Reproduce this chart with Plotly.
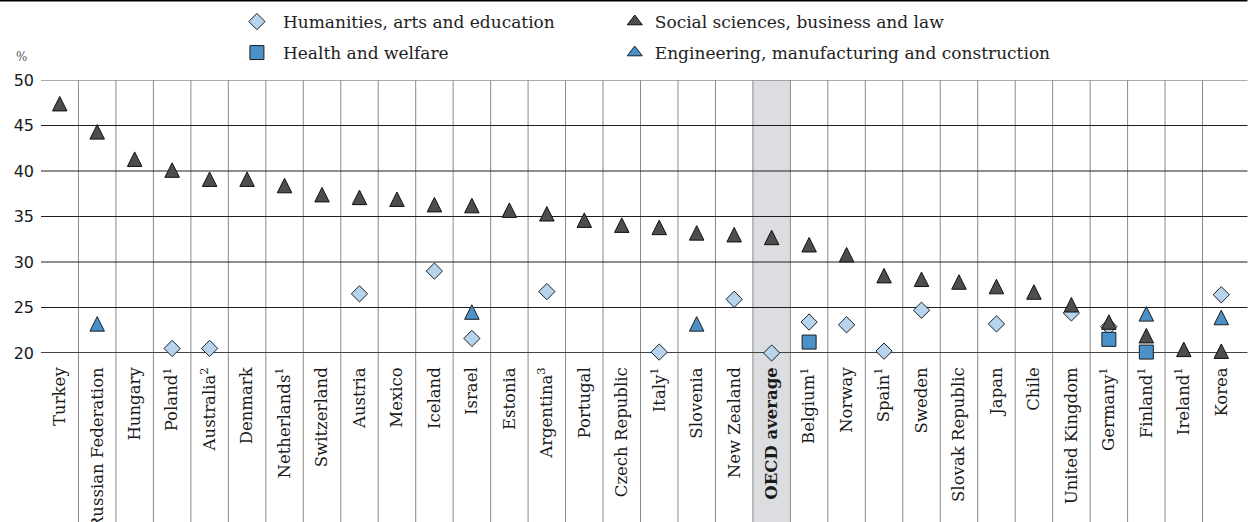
import plotly.graph_objects as go

# ---------------- data ----------------
countries = ["Turkey", "Russian Federation", "Hungary", "Poland", "Australia", "Denmark",
             "Netherlands", "Switzerland", "Austria", "Mexico", "Iceland", "Israel", "Estonia",
             "Argentina", "Portugal", "Czech Republic", "Italy", "Slovenia", "New Zealand",
             "OECD average", "Belgium", "Norway", "Spain", "Sweden", "Slovak Republic", "Japan",
             "Chile", "United Kingdom", "Germany", "Finland", "Ireland", "Korea"]
tick_text = ["Turkey", "Russian Federation", "Hungary", "Poland<sup>1</sup>", "Australia<sup>2</sup>",
             "Denmark", "Netherlands<sup>1</sup>", "Switzerland", "Austria", "Mexico", "Iceland",
             "Israel", "Estonia", "Argentina<sup>3</sup>", "Portugal", "Czech Republic",
             "Italy<sup>1</sup>", "Slovenia", "New Zealand", "<b>OECD average</b>",
             "Belgium<sup>1</sup>", "Norway", "Spain<sup>1</sup>", "Sweden", "Slovak Republic",
             "Japan", "Chile", "United Kingdom", "Germany<sup>1</sup>", "Finland<sup>1</sup>",
             "Ireland<sup>1</sup>", "Korea"]
social = [47.4, 44.3, 41.3, 40.1, 39.1, 39.1, 38.4, 37.4, 37.1, 36.9, 36.3, 36.2, 35.7, 35.3,
          34.6, 34.05, 33.8, 33.2, 33.0, 32.7, 31.9, 30.8, 28.5, 28.1, 27.8, 27.3, 26.7, 25.3,
          23.4, 21.9, 20.4, 20.2]
humanities = [None, None, None, 20.5, 20.5, None, None, None, 26.5, None, 29.0, 21.6, None, 26.75,
              None, None, 20.1, None, 25.9, 20.0, 23.4, 23.1, 20.2, 24.7, None, 23.2, None, 24.4,
              22.9, None, None, 26.4]
health = [None] * 20 + [21.2] + [None] * 7 + [21.5, 20.1, None, None]
engineering = [None, 23.2] + [None] * 9 + [24.5] + [None] * 5 + [23.2] + [None] * 11 + [24.3, None, 23.9]
y_ticks = [20, 25, 30, 35, 40, 45, 50]
series_names = ["Humanities, arts and education", "Social sciences, business and law",
                "Health and welfare", "Engineering, manufacturing and construction"]

# ---------------- layout geometry ----------------
W, H = 1248, 522
ml, mr, mt, mb = 41, 7.5, 80, 169
plot_w = W - ml - mr
plot_h = H - mt - mb
y_range = [20, 50]
tri_size = 14.5
px_per_unit = plot_h / (y_range[1] - y_range[0])
shift = tri_size / 2 / px_per_unit  # centre the arrow-shaped triangles on their values

dark = "#4d4d4d"
light = "#b7d4ee"
blue = "#4a90c9"
edge = "#1e1e1e"

fig = go.Figure()

fig.add_trace(go.Scatter(x=countries, y=social, mode="markers", yaxis="y2", showlegend=False,
                         cliponaxis=False, name=series_names[1],
                         marker=dict(symbol="arrow-up", size=tri_size, color=dark,
                                     line=dict(color="#111111", width=1))))
fig.add_trace(go.Scatter(x=countries, y=humanities, mode="markers", cliponaxis=False,
                         name=series_names[0], legend="legend",
                         marker=dict(symbol="diamond", size=12.5, color=light,
                                     line=dict(color=edge, width=1))))
fig.add_trace(go.Scatter(x=countries, y=health, mode="markers", cliponaxis=False,
                         name=series_names[2], legend="legend3",
                         marker=dict(symbol="square", size=14, color=blue,
                                     line=dict(color=edge, width=1))))
fig.add_trace(go.Scatter(x=countries, y=engineering, mode="markers", yaxis="y2", showlegend=False,
                         cliponaxis=False, name=series_names[3],
                         marker=dict(symbol="arrow-up", size=tri_size, color=blue,
                                     line=dict(color=edge, width=1))))
# legend entries for triangle series
fig.add_trace(go.Scatter(x=[None], y=[None], mode="markers", name=series_names[1], legend="legend2",
                         marker=dict(symbol="triangle-up", size=13, color=dark,
                                     line=dict(color="#111111", width=1))))
fig.add_trace(go.Scatter(x=[None], y=[None], mode="markers", name=series_names[3], legend="legend4",
                         marker=dict(symbol="triangle-up", size=13, color=blue,
                                     line=dict(color=edge, width=1))))

shapes = []
below = -mb / plot_h
oecd_idx = countries.index("OECD average")
shapes.append(dict(type="rect", xref="x", yref="paper", x0=oecd_idx - 0.5, x1=oecd_idx + 0.5,
                   y0=below, y1=1, fillcolor="#dcdde0", line=dict(width=0), layer="below"))
for i in range(len(countries) - 1):
    shapes.append(dict(type="line", xref="x", yref="paper", x0=i + 0.5, x1=i + 0.5, y0=below, y1=1,
                       line=dict(color="#8a8a8a", width=1), layer="below"))
for v in y_ticks:
    if v == 50:
        col, wd = "#8f8f8f", 1.5
    elif v == 20:
        col, wd = "#444444", 2
    else:
        col, wd = "#1e1e1e", 1
    shapes.append(dict(type="line", xref="paper", yref="y", x0=0, x1=1 + mr / plot_w, y0=v, y1=v,
                       line=dict(color=col, width=wd), layer="below"))
shapes.append(dict(type="line", xref="paper", yref="paper", x0=-ml / plot_w, x1=1 + mr / plot_w,
                   y0=1 + (mt - 0.75) / plot_h, y1=1 + (mt - 0.75) / plot_h,
                   line=dict(color="#000000", width=1.5)))

leg_font = dict(family="DejaVu Serif", size=17, color="#222222")
col1 = (231 - ml) / plot_w
col2 = (615 - ml) / plot_w
row1 = 1 + (mt - 22) / plot_h
row2 = 1 + (mt - 53) / plot_h


def leg(x, y, iw=30):
    return dict(x=x, y=y, xanchor="left", yanchor="middle", orientation="h", font=leg_font,
                bgcolor="rgba(0,0,0,0)", borderwidth=0, itemwidth=iw)


fig.update_layout(
    width=W, height=H,
    margin=dict(l=ml, r=mr, t=mt, b=mb, pad=0, autoexpand=False),
    paper_bgcolor="white", plot_bgcolor="rgba(0,0,0,0)",
    shapes=shapes,
    legend=leg(col1, row1, 42), legend2=leg(col2, row1),
    legend3=leg(col1, row2, 42), legend4=leg(col2, row2),
    xaxis=dict(type="category", range=[-0.5, len(countries) - 0.5], tickmode="array",
               tickvals=countries, ticktext=tick_text, tickangle=-90, showgrid=False,
               zeroline=False, showline=False, ticks="", ticklabelstandoff=10, automargin=False,
               tickfont=dict(family="DejaVu Serif", size=16.5, color="#1a1a1a")),
    yaxis=dict(range=y_range, tickmode="array", tickvals=y_ticks, showgrid=False, zeroline=False,
               showline=False, ticks="", ticklabelstandoff=6, automargin=False,
               tickfont=dict(family="DejaVu Sans", size=16, color="#1a1a1a")),
    yaxis2=dict(overlaying="y", range=[y_range[0] - shift, y_range[1] - shift], visible=False),
    annotations=[dict(text="%", xref="paper", yref="paper", x=(21 - ml) / plot_w,
                      y=1 + (mt - 57) / plot_h, showarrow=False, xanchor="center",
                      yanchor="middle", font=dict(family="DejaVu Serif", size=12, color="#555555"))],
)

fig.write_html("out.html", config={"displayModeBar": False},
               post_script="document.body.style.margin='0';")
